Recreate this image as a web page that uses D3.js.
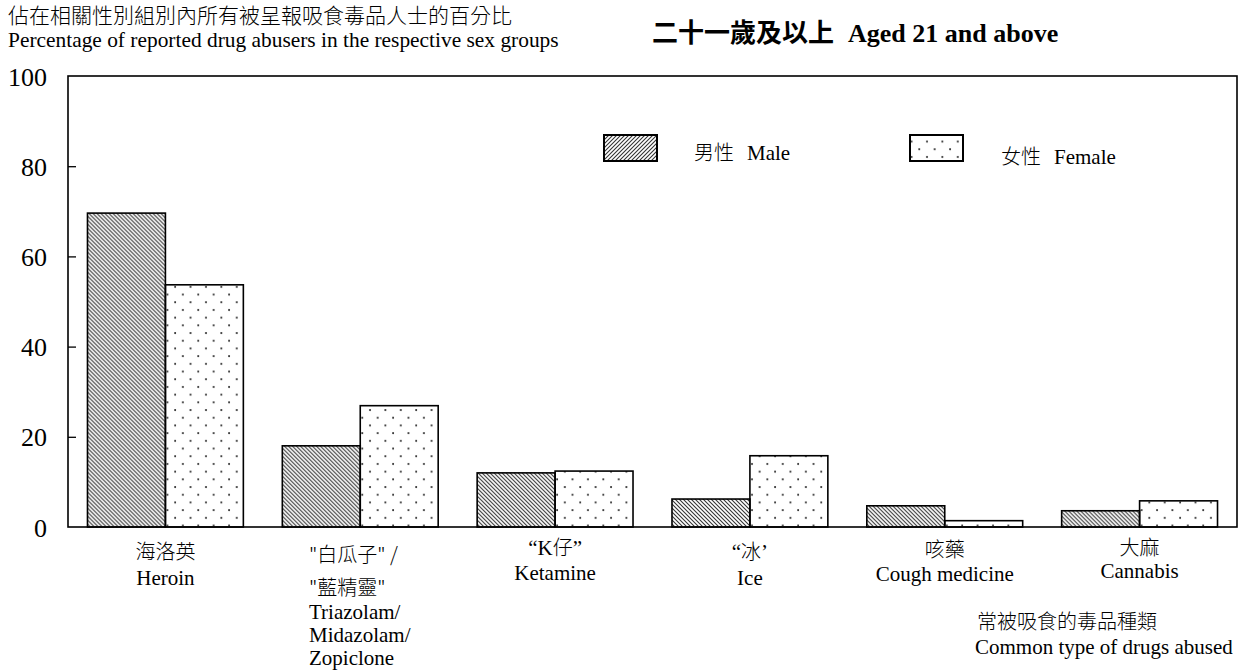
<!DOCTYPE html>
<html>
<head>
<meta charset="utf-8">
<script src="https://cdn.jsdelivr.net/npm/d3@7"></script>
<style>
  body { margin: 0; background: #fff; }
  svg text { fill: #000; }
  .en { font-family: "Liberation Serif", "DejaVu Serif", serif; }
  .zh { font-family: "Noto Sans CJK TC", "Noto Sans CJK SC", sans-serif; font-weight: 300; }
</style>
</head>
<body>
<svg id="chart"></svg>
<script>
// data
const categories = ["Heroin", "Triazolam", "Ketamine", "Ice", "Cough medicine", "Cannabis"];
const maleValues = [69.6, 18.0, 12.0, 6.2, 4.7, 3.6];
const femaleValues = [53.7, 26.9, 12.4, 15.8, 1.4, 5.8];
const yTicks = [0, 20, 40, 60, 80, 100];
// label lines per category, each line a list of [text, font] pieces
const categoryLabels = [
  [[["海洛英", "zh"]], [["Heroin", "en"]]],
  [[["\"白瓜子\" /", "zh"]], [["\"藍精靈\"", "zh"]], [["Triazolam/", "en"]], [["Midazolam/", "en"]], [["Zopiclone", "en"]]],
  [[["“K", "en"], ["仔", "zh"], ["”", "en"]], [["Ketamine", "en"]]],
  [[["“", "en"], ["冰", "zh"], ["’", "en"]], [["Ice", "en"]]],
  [[["咳藥", "zh"]], [["Cough medicine", "en"]]],
  [[["大麻", "zh"]], [["Cannabis", "en"]]]
];
// baselines of each label line
const labelBaselines = [
  [559, 585],
  [562, 595, 619, 642, 665],
  [555, 580],
  [559, 585],
  [557, 581],
  [555, 578]
];

const config = {
  width: 1241,
  height: 671,
  margin: { top: 76, right: 4, bottom: 144, left: 68 }
};

const svg = d3.select("#chart")
  .attr("width", config.width)
  .attr("height", config.height);

const innerW = config.width - config.margin.left - config.margin.right;
const innerH = config.height - config.margin.top - config.margin.bottom;

// patterns
const defs = svg.append("defs");
const hatch = defs.append("pattern")
  .attr("id", "hatch")
  .attr("patternUnits", "userSpaceOnUse")
  .attr("width", 4).attr("height", 4);
hatch.append("path")
  .attr("d", "M-1,-1 L5,5 M-1,3 L1,5 M3,-1 L5,1")
  .attr("stroke", "#333").attr("stroke-width", 1.1);

const hatchLegend = defs.append("pattern")
  .attr("id", "hatchLegend")
  .attr("patternUnits", "userSpaceOnUse")
  .attr("width", 4).attr("height", 4);
hatchLegend.append("path")
  .attr("d", "M-1,5 L5,-1 M-1,1 L1,-1 M3,5 L5,3")
  .attr("stroke", "#333").attr("stroke-width", 1.1);

const dots = defs.append("pattern")
  .attr("id", "dots")
  .attr("patternUnits", "userSpaceOnUse")
  .attr("width", 15.4).attr("height", 15.4);
dots.append("circle").attr("cx", 3).attr("cy", 3).attr("r", 1).attr("fill", "#222");
dots.append("circle").attr("cx", 10.7).attr("cy", 10.7).attr("r", 1).attr("fill", "#222");

const chart = svg.append("g")
  .attr("transform", `translate(${config.margin.left},${config.margin.top})`);

// scales
const xScale = d3.scaleBand()
  .domain(categories)
  .range([0, innerW])
  .paddingInner(0.2)
  .paddingOuter(0.1);

const xSub = d3.scaleBand()
  .domain(["male", "female"])
  .range([0, xScale.bandwidth()]);

const yScale = d3.scaleLinear().domain([0, 100]).range([innerH, 0]);

// y axis with inward ticks
const yAxis = d3.axisLeft(yScale)
  .tickValues(yTicks)
  .tickSize(-8)
  .tickPadding(21)
  .tickSizeOuter(0);

const yAxisG = chart.append("g").call(yAxis);
yAxisG.select(".domain").remove();
yAxisG.selectAll("line").attr("stroke", "#000").attr("stroke-width", 1.3);
yAxisG.selectAll("line").filter(d => d === 0 || d === 100).remove();
yAxisG.selectAll("text")
  .attr("class", "en")
  .style("font-size", "26px")
  .attr("dy", "0.35em");

// frame
chart.append("rect")
  .attr("x", 0).attr("y", 0)
  .attr("width", innerW).attr("height", innerH)
  .attr("fill", "none")
  .attr("stroke", "#000")
  .attr("stroke-width", 1.6);

// bars
const rows = categories.map((c, i) => ({ key: c, male: maleValues[i], female: femaleValues[i] }));

const groups = chart.selectAll(".bar-group")
  .data(rows)
  .join("g")
  .attr("class", "bar-group")
  .attr("transform", d => `translate(${xScale(d.key)},0)`);

groups.selectAll("rect")
  .data(d => [{ s: "male", v: d.male }, { s: "female", v: d.female }])
  .join("rect")
  .attr("x", d => xSub(d.s))
  .attr("y", d => yScale(d.v))
  .attr("width", xSub.bandwidth())
  .attr("height", d => innerH - yScale(d.v))
  .attr("fill", d => d.s === "male" ? "url(#hatch)" : "url(#dots)")
  .attr("stroke", "#000")
  .attr("stroke-width", 1.6);

// category labels
categories.forEach((c, i) => {
  const lines = categoryLabels[i];
  const leftAligned = i === 1;
  const x = leftAligned ? 309 : config.margin.left + xScale(c) + xScale.bandwidth() / 2;
  lines.forEach((pieces, j) => {
    const t = svg.append("text")
      .attr("x", x)
      .attr("y", labelBaselines[i][j])
      .attr("text-anchor", leftAligned ? "start" : "middle");
    pieces.forEach(p => {
      t.append("tspan")
        .attr("class", p[1])
        .style("font-size", p[1] === "zh" ? "20px" : "21px")
        .text(p[0]);
    });
  });
});

// titles
svg.append("text").attr("class", "zh")
  .attr("x", 8).attr("y", 23)
  .style("font-size", "21px")
  .text("佔在相關性別組別內所有被呈報吸食毒品人士的百分比");
svg.append("text").attr("class", "en")
  .attr("x", 8).attr("y", 47)
  .style("font-size", "21.4px")
  .text("Percentage of reported drug abusers in the respective sex groups");

const mainTitle = svg.append("text")
  .attr("x", 652).attr("y", 42)
  .style("font-size", "26px");
mainTitle.append("tspan").attr("class", "zh").style("font-weight", "bold").text("二十一歲及以上");
mainTitle.append("tspan").attr("class", "en").attr("dx", 14).style("font-weight", "bold").text("Aged 21 and above");

// legend
const legendItems = [
  { zh: "男性", en: "Male", fill: "url(#hatchLegend)", x: 604, y: 135, tx: 694, ty: 160 },
  { zh: "女性", en: "Female", fill: "url(#dots)", x: 910, y: 135, tx: 1001, ty: 164 }
];
legendItems.forEach(d => {
  svg.append("rect")
    .attr("x", d.x).attr("y", d.y)
    .attr("width", 53).attr("height", 26)
    .attr("fill", d.fill)
    .attr("stroke", "#000")
    .attr("stroke-width", 2);
  const t = svg.append("text")
    .attr("x", d.tx).attr("y", d.ty);
  t.append("tspan").attr("class", "zh").style("font-size", "20px").text(d.zh);
  t.append("tspan").attr("class", "en").style("font-size", "21px").attr("dx", 13).text(d.en);
});

// x axis title
svg.append("text").attr("class", "zh")
  .attr("x", 977).attr("y", 629)
  .style("font-size", "20px")
  .text("常被吸食的毒品種類");
svg.append("text").attr("class", "en")
  .attr("x", 975).attr("y", 654)
  .style("font-size", "21px")
  .text("Common type of drugs abused");
</script>
</body>
</html>
